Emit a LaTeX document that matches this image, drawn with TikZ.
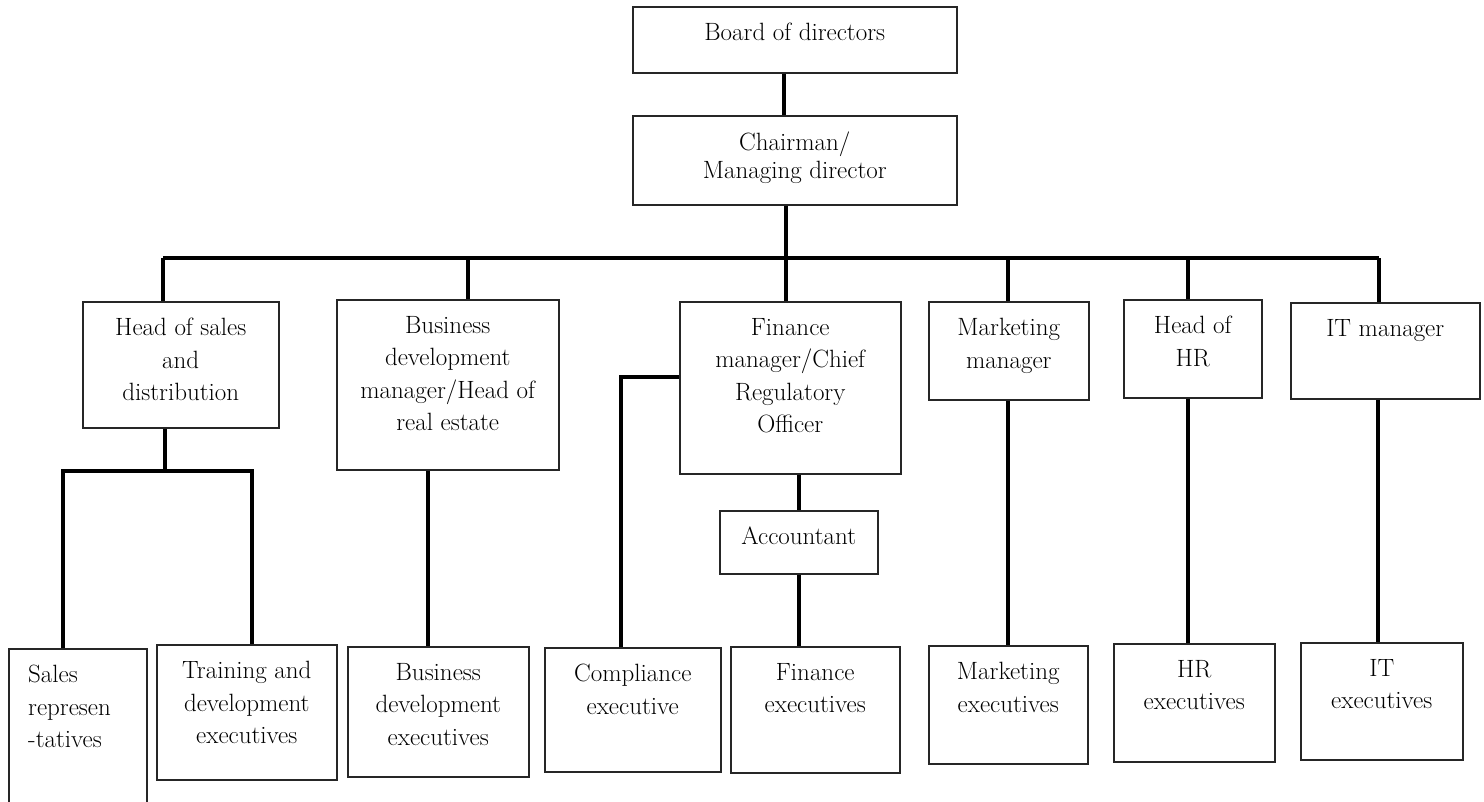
\documentclass[tikz,border=0pt]{standalone}
\usetikzlibrary{positioning}

\begin{document}
\begin{tikzpicture}[x=1pt,y=1pt,
                    post/.style = {draw=black!85, line width=1.5pt, anchor=north west, inner sep=0pt},
                    lbl/.style  = {anchor=north, yshift=-17pt, inner sep=0pt, align=center,
                                   font=\fontsize{25}{32.5}\selectfont},
                    wire/.style = {line width=3.6pt}]
                    \useasboundingbox (0,0) rectangle (1484,-801);
                    \clip (0,0) rectangle (1484,-801);

                    % top
                    \node[post, minimum width=324, minimum height=66,  label={[lbl]north:Board of directors}] (board) at (632,-6) {};
                    \node[post, minimum width=324, minimum height=89,  label={[lbl]north:{Chairman/\\[-4.5pt]Managing director}}] (chair) at (632,-115) {};

                    % heads
                    \node[post, minimum width=196, minimum height=126, label={[lbl]north:{Head of sales\\and\\distribution}}] (hos) at (82,-301) {};
                    \node[post, minimum width=222, minimum height=170, label={[lbl]north:{Business\\development\\manager/Head of\\real estate}}] (bdm) at (336,-299) {};
                    \node[post, minimum width=221, minimum height=172, label={[lbl]north:{Finance\\manager/Chief\\Regulatory\\Officer}}] (fin) at (679,-301) {};
                    \node[post, minimum width=160, minimum height=98,  label={[lbl]north:{Marketing\\manager}}] (mkt) at (928,-301) {};
                    \node[post, minimum width=138, minimum height=98,  label={[lbl]north:{Head of\\HR}}] (hr) at (1123,-299) {};
                    \node[post, minimum width=189, minimum height=96,  label={[lbl]north:IT manager}] (it) at (1290,-302) {};
                    \node[post, minimum width=158, minimum height=63,  label={[lbl]north:Accountant}] (acc) at (719,-510) {};

                    % executives
                    \node[post, minimum width=138, minimum height=200,
                          label={[lbl, anchor=north west, align=left, xshift=20pt]north west:{Sales\\represen\\-tatives}}] (rep) at (8,-648) {};
                    \node[post, minimum width=180, minimum height=135, label={[lbl]north:{Training and\\development\\executives}}] (trn) at (156,-644) {};
                    \node[post, minimum width=181, minimum height=130, label={[lbl]north:{Business\\development\\executives}}] (bde) at (347,-646) {};
                    \node[post, minimum width=176, minimum height=124, label={[lbl]north:{Compliance\\executive}}] (cmp) at (544,-647) {};
                    \node[post, minimum width=169, minimum height=126, label={[lbl]north:{Finance\\executives}}] (fne) at (730,-646) {};
                    \node[post, minimum width=159, minimum height=118, label={[lbl]north:{Marketing\\executives}}] (mke) at (928,-645) {};
                    \node[post, minimum width=161, minimum height=118, label={[lbl]north:{HR\\executives}}] (hre) at (1113,-643) {};
                    \node[post, minimum width=162, minimum height=117, label={[lbl]north:{IT\\executives}}] (ite) at (1300,-642) {};

                    % bus
                    \coordinate (busL) at (163,-258);
                    \coordinate (busR) at (1379,-258);
                    \coordinate (split) at (165,-471);

                    \draw[wire] (784,0 |- board.south) -- (784,0 |- chair.north);
                    \draw[wire] (786,0 |- chair.south) -- (786,0 |- fin.north);
                    \draw[wire] (busL) -- (busR);

                    % drops
                    \draw[wire] (busL) -- (busL |- hos.north);
                    \draw[wire] (468,0 |- busL) -- (468,0 |- bdm.north);
                    \draw[wire] (1008,0 |- busL) -- (1008,0 |- mkt.north);
                    \draw[wire] (1188,0 |- busL) -- (1188,0 |- hr.north);
                    \draw[wire] (busR) -- (busR |- it.north);

                    % sales
                    \draw[wire] (split |- hos.south) -- (split);
                    \draw[wire] (63,0 |- rep.north) -- (63,0 |- split) -- (252,0 |- split) -- (252,0 |- trn.north);

                    % business development
                    \draw[wire] (428,0 |- bdm.south) -- (428,0 |- bde.north);

                    % finance
                    \draw[wire] (fin.west |- 0,-377) -| (621,0 |- cmp.north);
                    \draw[wire] (799,0 |- fin.south) -- (799,0 |- acc.north);
                    \draw[wire] (799,0 |- acc.south) -- (799,0 |- fne.north);

                    % marketing, hr, it
                    \draw[wire] (1008,0 |- mkt.south) -- (1008,0 |- mke.north);
                    \draw[wire] (1188,0 |- hr.south) -- (1188,0 |- hre.north);
                    \draw[wire] (1378,0 |- it.south) -- (1378,0 |- ite.north);

                \end{tikzpicture}
\end{document}
